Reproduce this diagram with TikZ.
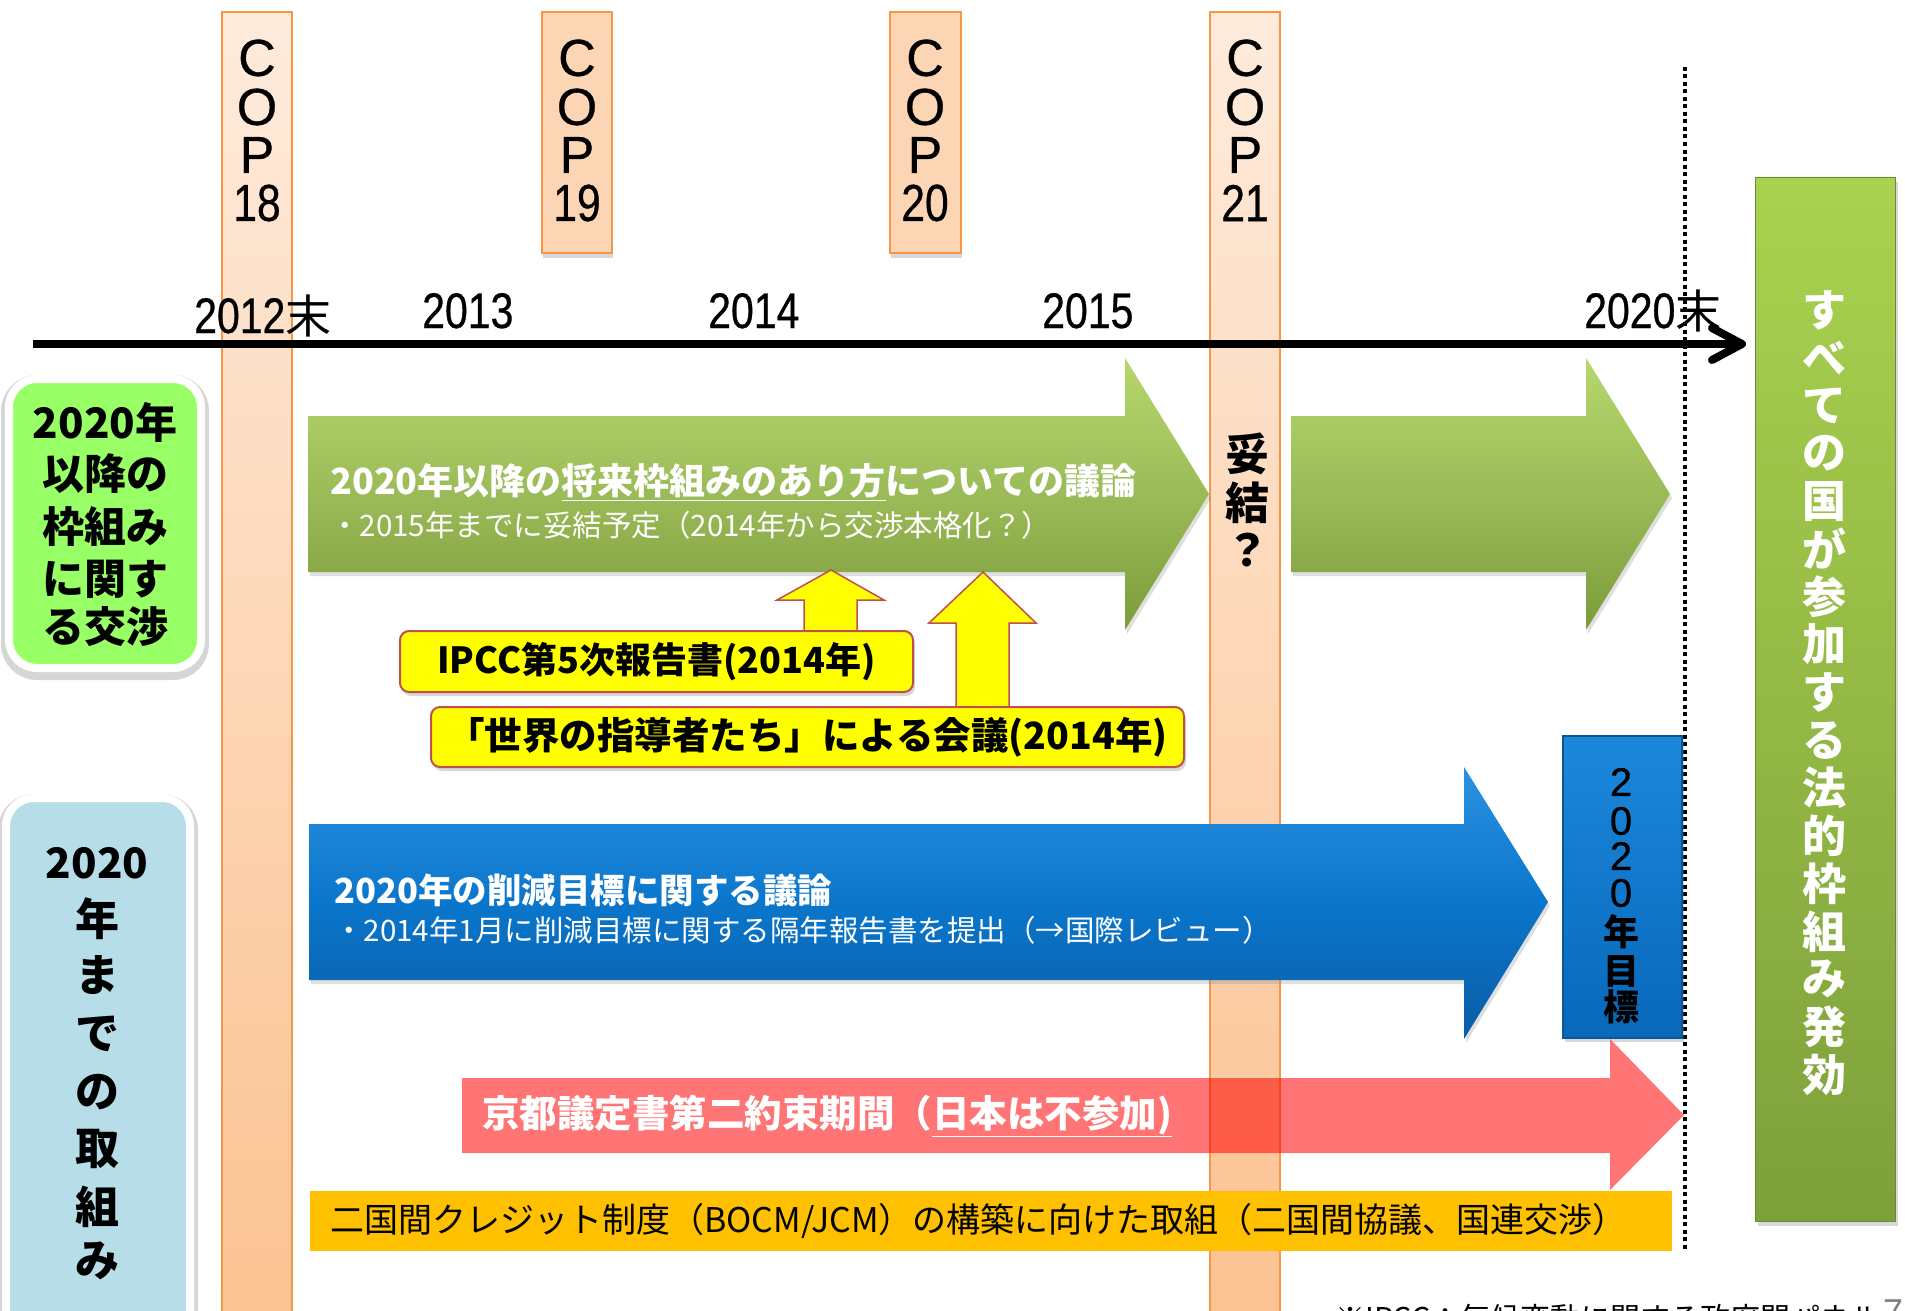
\documentclass[tikz,border=0pt]{standalone}
\usepackage{fontspec}
\setmainfont{Noto Sans CJK JP}
\newfontfamily\jp{Noto Sans CJK JP}
\newfontfamily\lat{Liberation Sans}
\newfontfamily\latc[FakeBold=0.6]{Liberation Sans}
\newfontfamily\latn[FakeStretch=0.82,FakeBold=0.6]{Liberation Sans}
\usetikzlibrary{shadows,arrows.meta}
\newcommand\fsz[1]{\fontsize{#1}{#1}\selectfont}

\definecolor{copedge}{HTML}{F79646}
\definecolor{coptop}{HTML}{FEEBDC}
\definecolor{copbot}{HTML}{FBC291}
\definecolor{copbox}{HTML}{FCD5B4}
\definecolor{gA}{HTML}{B6D76C}
\definecolor{gB}{HTML}{9BBB59}
\definecolor{gC}{HTML}{7C9C3B}
\definecolor{bA}{HTML}{2C92E2}
\definecolor{bB}{HTML}{0A76CB}
\definecolor{bC}{HTML}{0A5CA6}
\definecolor{yel}{HTML}{FFFF00}
\definecolor{yedge}{HTML}{C0504D}
\definecolor{jcm}{HTML}{FFC000}
\definecolor{lgreen}{HTML}{99FF66}
\definecolor{lblue}{HTML}{B7DEE8}
\definecolor{rgA}{HTML}{A9D24F}
\definecolor{rgB}{HTML}{7EA03B}
\definecolor{tbA}{HTML}{1C88DC}
\definecolor{tbB}{HTML}{0868BA}
\definecolor{tbE}{HTML}{0A5794}

\tikzset{
  copbar/.style={draw=copedge, line width=2pt, top color=coptop, bottom color=copbot},
  copbx/.style={draw=copedge, line width=2pt, fill=copbox,
    drop shadow={opacity=0.3, shadow xshift=1pt, shadow yshift=-5pt}},
  coplet/.style={font=\latc\fsz{52}, inner sep=0pt},
  yearlab/.style={inner sep=0pt, anchor=base west},
  dotline/.style={line width=4pt, dash pattern=on 4pt off 3.5pt},
  axisline/.style={line width=8pt, -{Straight Barb[round, length=30pt, width=32pt]}},
  lbox/.style={draw=white, line width=8pt, rounded corners=28pt,
    preaction={draw=black, draw opacity=0.16, line width=16pt,
      transform canvas={yshift=-4pt}}},
  ltext/.style={font=\jp\bfseries\fsz{42}, inner sep=0pt},
  garrow/.style={top color=gA, bottom color=gC, middle color=gB,
    drop shadow={opacity=0.25, shadow xshift=2pt, shadow yshift=-4pt}},
  barrow/.style={top color=bA, bottom color=bC, middle color=bB,
    drop shadow={opacity=0.25, shadow xshift=2pt, shadow yshift=-4pt}},
  yarrow/.style={fill=yel, draw=yedge, line width=1.5pt},
  ybox/.style={fill=yel, draw=yedge, line width=2pt, rounded corners=9pt,
    drop shadow={opacity=0.3, shadow xshift=2pt, shadow yshift=-4pt},
    inner sep=0pt},
  wmain/.style={anchor=west, text=white, inner sep=0pt},
  rbox/.style={top color=rgA, bottom color=rgB, draw=rgB!85!black, line width=1pt,
    drop shadow={opacity=0.3, shadow xshift=3pt, shadow yshift=-5pt}},
  tbox/.style={top color=tbA, bottom color=tbB, draw=tbE, line width=1.5pt,
    drop shadow={opacity=0.3, shadow xshift=2pt, shadow yshift=-4pt}},
  vchar/.style={inner sep=0pt}
}

\begin{document}
\begin{tikzpicture}[x=1pt,y=-1pt]
\clip (0,0) rectangle (1905,1311);
\fill[white] (0,0) rectangle (1905,1311);

% COP bars and boxes
\path[copbar] (222,12) rectangle (292,1330);
\path[copbar] (1210,12) rectangle (1280,1330);
\path[copbx] (542,12) rectangle (612,253);
\path[copbx] (890,12) rectangle (961,253);

\foreach \x/\n/\k in {257/18/a, 577/19/b, 925/20/c, 1245/21/d} {
  \node[coplet] (C\k) at (\x,58) {C};
  \node[coplet] (O\k) at (\x,107) {O};
  \node[coplet] (P\k) at (\x,155) {P};
  \node[coplet, font=\latn\fsz{52}] (N\k) at (\x,203) {\n};
}

% dotted line and time axis
\coordinate (dtop) at (1685,67);
\coordinate (dbot) at (1685,1251);
\draw[dotline] (dtop) -- (dbot);
\coordinate (axs) at (33,344);
\coordinate (axe) at (1746,344);
\draw[axisline] (axs) -- (axe);

% year labels
\node[yearlab] (y12) at (194,333) {{\latn\fsz{50}2012}{\jp\fsz{46}末}};
\node[yearlab] (y13) at (422,328) {{\latn\fsz{50}2013}};
\node[yearlab] (y14) at (708,328) {{\latn\fsz{50}2014}};
\node[yearlab] (y15) at (1042,328) {{\latn\fsz{50}2015}};
\node[yearlab] (y20) at (1584,328) {{\latn\fsz{50}2020}{\jp\fsz{46}末}};

% left category boxes
\path[lbox, fill=lgreen] (9,379) rectangle (201,668);
\node[ltext] (lg1) at (105,422) {2020年};
\node[ltext] (lg2) at (105,474) {以降の};
\node[ltext] (lg3) at (105,527) {枠組み};
\node[ltext] (lg4) at (105,579) {に関す};
\node[ltext] (lg5) at (105,627) {る交渉};

\path[lbox, fill=lblue] (6,798) rectangle (190,1345);
\node[ltext] (lb0) at (97,863) {2020};
\foreach \c/\y [count=\i] in {年/919, ま/975, で/1034, の/1092, 取/1149, 組/1207, み/1261}
  \node[ltext, font=\jp\bfseries\fsz{44}] (lb\i) at (97,\y) {\c};

% green arrows
\path[garrow] (308,416) -- (1125,416) -- (1125,358) -- (1209,494) -- (1125,630) -- (1125,572) -- (308,572) -- cycle;
\path[garrow] (1291,416) -- (1586,416) -- (1586,358) -- (1670,494) -- (1586,630) -- (1586,572) -- (1291,572) -- cycle;

% yellow up arrows
\path[yarrow] (804,640) -- (804,600) -- (777,600) -- (831,570) -- (884,600) -- (857,600) -- (857,640) -- cycle;
\path[yarrow] (956,712) -- (956,623) -- (929,623) -- (983,572) -- (1036,623) -- (1009,623) -- (1009,712) -- cycle;

% yellow boxes
\node[ybox, font=\jp\bfseries\fsz{36}, minimum width=513pt, minimum height=61pt] (ipcc) at (656.5,661.5) {IPCC第5次報告書(2014年)};
\node[ybox, font=\jp\bfseries\fsz{37.5}, minimum width=753pt, minimum height=60pt] (wld) at (807.5,737) {「世界の指導者たち」による会議(2014年)};

% blue arrow
\path[barrow] (309,824) -- (1464,824) -- (1464,767) -- (1548,902) -- (1464,1039) -- (1464,980) -- (309,980) -- cycle;

% 2020 target box
\path[tbox] (1563,736) rectangle (1682,1038);
\node[vchar, font=\latc\fsz{40}] (t1) at (1621,782) {2};
\node[vchar, font=\latc\fsz{40}] (t2) at (1621,821) {0};
\node[vchar, font=\latc\fsz{40}] (t3) at (1621,856) {2};
\node[vchar, font=\latc\fsz{40}] (t4) at (1621,893) {0};
\node[vchar, font=\jp\bfseries\fsz{36}] (t5) at (1621,932) {年};
\node[vchar, font=\jp\bfseries\fsz{36}] (t6) at (1621,971) {目};
\node[vchar, font=\jp\bfseries\fsz{36}] (t7) at (1621,1007) {標};

% Kyoto arrow (translucent)
\path[fill=red, fill opacity=0.54] (462,1078) -- (1610,1078) -- (1610,1039) -- (1684,1115) -- (1610,1190) -- (1610,1153) -- (462,1153) -- cycle;

% JCM bar
\path[fill=jcm] (310,1191) rectangle (1672,1251);

% right green box
\path[rbox] (1755,177) rectangle (1895,1221);
\foreach \c [count=\i from 0] in {す,べ,て,の,国,が,参,加,す,る,法,的,枠,組,み,発,効}
  \node[vchar, text=white, font=\jp\bfseries\fsz{44}] (law\i) at (1824,310+47.8*\i) {\c};

% 妥結？
\node[vchar, font=\jp\bfseries\fsz{44}] (d1) at (1247,454) {妥};
\node[vchar, font=\jp\bfseries\fsz{44}] (d2) at (1247,503) {結};
\node[vchar, font=\jp\bfseries\fsz{44}] (d3) at (1247,550) {？};

% arrow texts
\node[wmain, font=\jp\bfseries\fsz{36}] (g1main) at (330,482) {2020年以降の\underline{将来枠組みのあり方}についての議論};
\node[wmain, font=\jp\fsz{29.5}] (g1sub) at (330,525) {・2015年までに妥結予定（2014年から交渉本格化？）};
\node[wmain, font=\jp\bfseries\fsz{34.5}] (bmain) at (334,890) {2020年の削減目標に関する議論};
\node[wmain, font=\jp\fsz{29.5}] (bsub) at (334,930) {・2014年1月に削減目標に関する隔年報告書を提出（→国際レビュー）};
\node[wmain, font=\jp\bfseries\fsz{37.5}] (kyoto) at (482,1116) {京都議定書第二約束期間（\underline{日本は不参加)}};
\node[anchor=west, inner sep=0pt, font=\jp\fsz{34}] (jcmt) at (330,1221) {二国間クレジット制度（BOCM/JCM）の構築に向けた取組（二国間協議、国連交渉）};

% footer
\node[anchor=west, inner sep=0pt, font=\jp\fsz{30}] (foot) at (1335,1318) {※IPCC：気候変動に関する政府間パネル};
\node[anchor=north, inner sep=0pt, font=\lat\fsz{36}, text=gray] (pg) at (1893,1300) {7};
\end{tikzpicture}
\end{document}
